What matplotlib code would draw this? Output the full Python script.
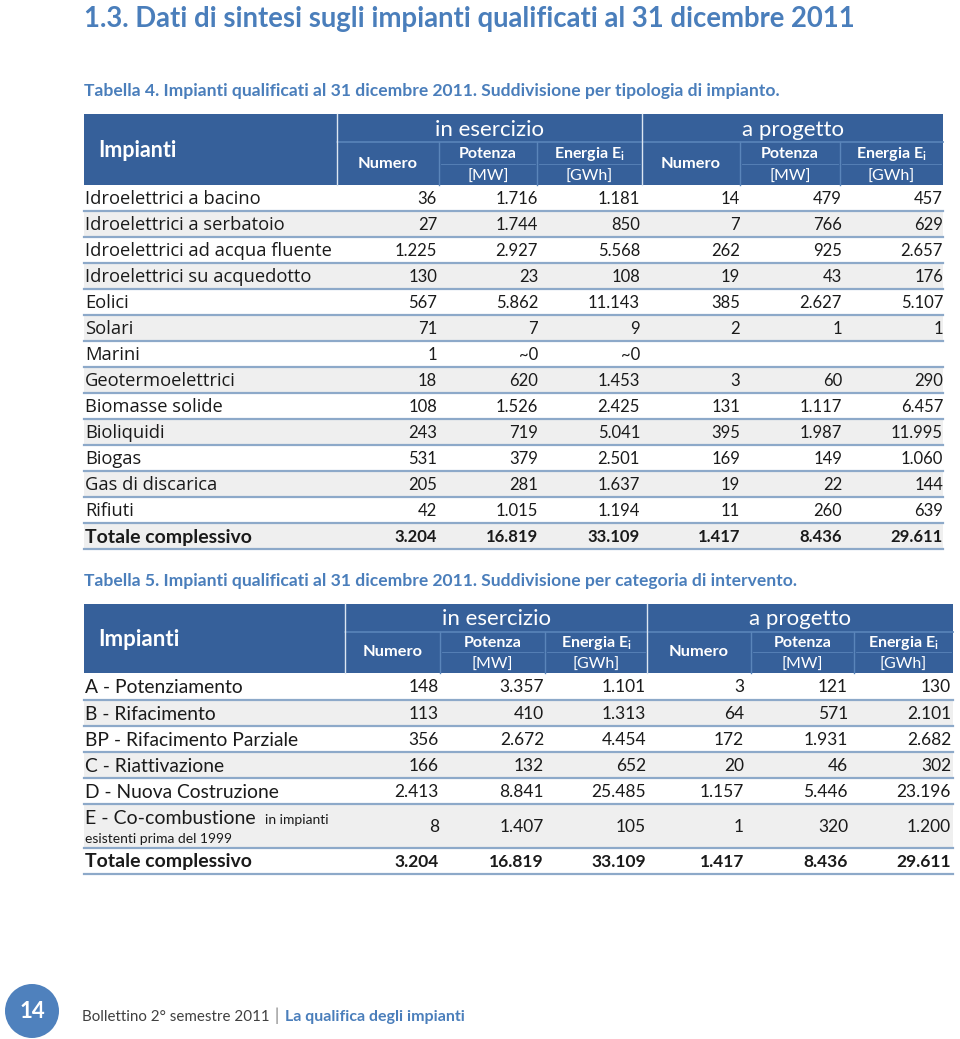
import matplotlib.pyplot as plt
from matplotlib.patches import Rectangle, Circle

BLU_TITOLO = "#4A7EBB"
BLU_HEADER = "#36609A"
BLU_LINEA_HEADER = "#5A85BA"
LINEA_RIGA = "#8DA9C9"
GRIGIO_RIGA = "#EFEFEF"
TESTO = "#1A1A1A"

# --- Tabella 4: tipologia di impianto ---
righe_t4 = ["Idroelettrici a bacino", "Idroelettrici a serbatoio", "Idroelettrici ad acqua fluente",
            "Idroelettrici su acquedotto", "Eolici", "Solari", "Marini", "Geotermoelettrici",
            "Biomasse solide", "Bioliquidi", "Biogas", "Gas di discarica", "Rifiuti"]
numero_es_t4 = ["36", "27", "1.225", "130", "567", "71", "1", "18", "108", "243", "531", "205", "42"]
potenza_es_t4 = ["1.716", "1.744", "2.927", "23", "5.862", "7", "~0", "620", "1.526", "719", "379", "281", "1.015"]
energia_es_t4 = ["1.181", "850", "5.568", "108", "11.143", "9", "~0", "1.453", "2.425", "5.041", "2.501", "1.637", "1.194"]
numero_pr_t4 = ["14", "7", "262", "19", "385", "2", "", "3", "131", "395", "169", "19", "11"]
potenza_pr_t4 = ["479", "766", "925", "43", "2.627", "1", "", "60", "1.117", "1.987", "149", "22", "260"]
energia_pr_t4 = ["457", "629", "2.657", "176", "5.107", "1", "", "290", "6.457", "11.995", "1.060", "144", "639"]
totale_t4 = ["3.204", "16.819", "33.109", "1.417", "8.436", "29.611"]

# --- Tabella 5: categoria di intervento ---
righe_t5 = ["A - Potenziamento", "B - Rifacimento", "BP - Rifacimento Parziale",
            "C - Riattivazione", "D - Nuova Costruzione", "E - Co-combustione"]
numero_es_t5 = ["148", "113", "356", "166", "2.413", "8"]
potenza_es_t5 = ["3.357", "410", "2.672", "132", "8.841", "1.407"]
energia_es_t5 = ["1.101", "1.313", "4.454", "652", "25.485", "105"]
numero_pr_t5 = ["3", "64", "172", "20", "1.157", "1"]
potenza_pr_t5 = ["121", "571", "1.931", "46", "5.446", "320"]
energia_pr_t5 = ["130", "2.101", "2.682", "302", "23.196", "1.200"]
totale_t5 = ["3.204", "16.819", "33.109", "1.417", "8.436", "29.611"]

FONT_CAL = "Lato"
FONT_SEG = "Open Sans"

fig = plt.figure(figsize=(9.6, 10.39), dpi=100)
ax = fig.add_axes([0, 0, 1, 1])
ax.set_xlim(0, 960)
ax.set_ylim(1039, 0)
ax.axis("off")


def intestazione(x0, x1, y0, y1, xs_gruppi, xs_sub, size_imp, size_grp):
    # blocco blu con "Impianti", gruppi e sottocolonne
    ax.add_patch(Rectangle((x0, y0), x1 - x0, y1 - y0, color=BLU_HEADER, lw=0))
    g0, g1, g2 = xs_gruppi
    ym = y0 + (y1 - y0) * 0.40
    ax.plot([g0, x1], [ym, ym], color=BLU_LINEA_HEADER, lw=1.2)
    for g in (g0, g1):
        ax.plot([g, g], [y0, y1], color="#DCE6F2", lw=1.0)
    for s in xs_sub:
        ax.plot([s, s], [ym, y1], color=BLU_LINEA_HEADER, lw=1.0)
    ax.text(x0 + 14, y0 + (y1 - y0) * 0.52, "Impianti", color="white", fontsize=size_imp,
            family=FONT_CAL, weight="bold", va="center")
    for a, b, nome in ((g0, g1, "in esercizio"), (g1, x1, "a progetto")):
        ax.text((a + b) / 2, y0 + (y1 - y0) * 0.22, nome, color="white", fontsize=size_grp,
                family=FONT_CAL, ha="center", va="center")
    confini = [g0, xs_sub[0], xs_sub[1], g1, xs_sub[2], xs_sub[3], x1]
    yt = ym + (y1 - ym) * 0.27
    yb = ym + (y1 - ym) * 0.80
    for k in range(6):
        a, b = confini[k], confini[k + 1]
        c = (a + b) / 2
        if k % 3 == 0:
            ax.text(c, (ym + y1) / 2, "Numero", color="white", fontsize=11.8, family=FONT_CAL,
                    weight="bold", ha="center", va="center")
        else:
            ax.plot([a + 2, b - 2], [(ym + y1) / 2, (ym + y1) / 2], color=BLU_LINEA_HEADER, lw=0.6)
            top = "Potenza" if k % 3 == 1 else r"Energia E$_\mathregular{i}$"
            bot = "[MW]" if k % 3 == 1 else "[GWh]"
            ax.text(c, yt, top, color="white", fontsize=11.5, family=FONT_CAL, weight="bold",
                    ha="center", va="center")
            ax.text(c, yb, bot, color="white", fontsize=11.5, family=FONT_CAL,
                    ha="center", va="center")


def corpo(x0, x1, bordi, etichette, colonne, xs_dx, font_lab, size_lab, size_tot, size_num, grigio_pari):
    n = len(bordi) - 1
    for i in range(n):
        ya, yb = bordi[i], bordi[i + 1]
        if (i % 2 == 1) == grigio_pari:
            ax.add_patch(Rectangle((x0, ya), x1 - x0, yb - ya, color=GRIGIO_RIGA, lw=0))
        ax.plot([x0, x1], [yb, yb], color=LINEA_RIGA, lw=1.6)
        yc = (ya + yb) / 2 + 1
        ultima = i == n - 1
        if etichette[i] is not None:
            ax.text(x0 + 1, yc, etichette[i], color=TESTO,
                    fontsize=size_tot if ultima else size_lab,
                    family=FONT_CAL if ultima else font_lab,
                    weight="bold" if ultima else "normal", va="center")
        for col, xd in zip(colonne, xs_dx):
            ax.text(xd, yc, col[i], color=TESTO, fontsize=size_num, family=FONT_CAL,
                    weight="bold" if ultima else "normal", ha="right", va="center")


# titolo pagina
ax.text(84, 19, "1.3. Dati di sintesi sugli impianti qualificati al 31 dicembre 2011",
        color=BLU_TITOLO, fontsize=19.8, family=FONT_CAL, weight="bold", va="center")

# Tabella 4
ax.text(84, 91, "Tabella 4. Impianti qualificati al 31 dicembre 2011. Suddivisione per tipologia di impianto.",
        color=BLU_TITOLO, fontsize=12.6, family=FONT_CAL, weight="bold", va="center")
intestazione(84, 943, 114, 185, (337, 642, 943), (439, 537, 740, 840), 15.5, 16)
bordi_t4 = [185 + 26 * i for i in range(len(righe_t4) + 2)]
colonne_t4 = [numero_es_t4 + [totale_t4[0]], potenza_es_t4 + [totale_t4[1]], energia_es_t4 + [totale_t4[2]],
              numero_pr_t4 + [totale_t4[3]], potenza_pr_t4 + [totale_t4[4]], energia_pr_t4 + [totale_t4[5]]]
corpo(84, 943, bordi_t4, righe_t4 + ["Totale complessivo"], colonne_t4,
      (437, 538, 640, 740, 842, 943), FONT_SEG, 13.2, 14, 12, grigio_pari=True)

# Tabella 5
ax.text(84, 581, "Tabella 5. Impianti qualificati al 31 dicembre 2011. Suddivisione per categoria di intervento.",
        color=BLU_TITOLO, fontsize=12.6, family=FONT_CAL, weight="bold", va="center")
intestazione(84, 953, 604, 673, (345, 647, 953), (440, 545, 751, 854), 16, 16)
bordi_t5 = [673, 700, 726, 752, 778, 804, 848, 874]
colonne_t5 = [numero_es_t5 + [totale_t5[0]], potenza_es_t5 + [totale_t5[1]], energia_es_t5 + [totale_t5[2]],
              numero_pr_t5 + [totale_t5[3]], potenza_pr_t5 + [totale_t5[4]], energia_pr_t5 + [totale_t5[5]]]
etichette_t5 = righe_t5[:-1] + [None, "Totale complessivo"]
corpo(84, 953, bordi_t5, etichette_t5, colonne_t5,
      (439, 544, 646, 744, 848, 951), FONT_CAL, 13.9, 14, 12.5, grigio_pari=True)
# riga E su due linee
ax.text(85, 818, righe_t5[-1], color=TESTO, fontsize=14, family=FONT_CAL, va="center")
ax.text(265, 820, "in impianti", color=TESTO, fontsize=10, family=FONT_CAL, va="center")
ax.text(85, 839, "esistenti prima del 1999", color=TESTO, fontsize=10, family=FONT_CAL, va="center")

# piè di pagina
ax.add_patch(Circle((32, 1011), 27, color="#4F81BD", lw=0))
ax.text(32, 1011, "14", color="white", fontsize=16, family=FONT_CAL, weight="bold",
        ha="center", va="center")
ax.text(82, 1017, "Bollettino 2° semestre 2011", color="#404040", fontsize=10.9,
        family=FONT_CAL, va="center")
ax.text(275, 1016, "|", color="#808080", fontsize=12, family=FONT_CAL, va="center")
ax.text(285, 1017, "La qualifica degli impianti", color=BLU_TITOLO, fontsize=11.5,
        family=FONT_CAL, weight="bold", va="center")

fig.savefig("out.png", dpi=100)
